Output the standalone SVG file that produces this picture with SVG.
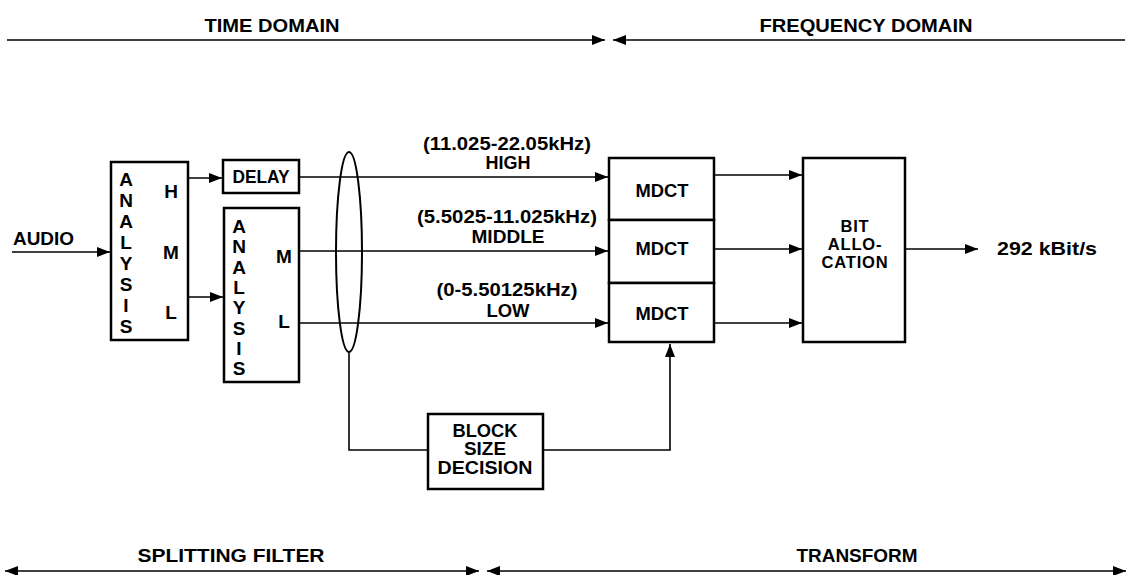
<svg xmlns="http://www.w3.org/2000/svg" width="1130" height="575" viewBox="0 0 1130 575">
<style>
text{font-family:"Liberation Sans",Arial,sans-serif;font-weight:bold;font-size:19px;fill:#000}
.s{font-size:17.5px}
.b{font-size:16.5px;letter-spacing:0.8px}
.box{fill:#fff;stroke:#000;stroke-width:2.5}
.ln{fill:none;stroke:#000;stroke-width:1.6}
.m{text-anchor:middle}
</style>
<defs>
<marker id="ah" viewBox="0 0 13 10" refX="13" refY="5" markerWidth="13" markerHeight="10" markerUnits="userSpaceOnUse" orient="auto">
<path d="M0,0 L13,5 L0,10 Z" fill="#000"/>
</marker>
</defs>
<g id="domains">
<text x="272" y="32" class="m" textLength="135" lengthAdjust="spacingAndGlyphs">TIME DOMAIN</text>
<text x="866" y="32" class="m" textLength="213" lengthAdjust="spacingAndGlyphs">FREQUENCY DOMAIN</text>
<text x="231" y="562" class="m" textLength="187" lengthAdjust="spacingAndGlyphs">SPLITTING FILTER</text>
<text x="857" y="562" class="m" textLength="121" lengthAdjust="spacingAndGlyphs">TRANSFORM</text>
</g>
<g id="audio"><text x="13" y="245" textLength="61" lengthAdjust="spacingAndGlyphs">AUDIO</text></g>
<g id="analysis1">
<rect class="box" x="111" y="162" width="77" height="178"/>
<g class="m">
<text x="126" y="186">A</text><text x="126" y="207">N</text><text x="126" y="228">A</text><text x="126" y="249">L</text><text x="126" y="270">Y</text><text x="126" y="291">S</text><text x="126" y="312">I</text><text x="126" y="333">S</text>
<text x="171" y="198">H</text><text x="171" y="259">M</text><text x="171" y="319">L</text>
</g>
</g>
<g id="delay">
<rect class="box" x="223" y="160" width="76" height="33"/>
<text x="261" y="183" class="m" textLength="57" lengthAdjust="spacingAndGlyphs">DELAY</text>
</g>
<g id="analysis2">
<rect class="box" x="224" y="208" width="75" height="174"/>
<g class="m">
<text x="239" y="233">A</text><text x="239" y="253">N</text><text x="239" y="274">A</text><text x="239" y="294">L</text><text x="239" y="314">Y</text><text x="239" y="335">S</text><text x="239" y="355">I</text><text x="239" y="375">S</text>
<text x="284" y="263">M</text><text x="284" y="328">L</text>
</g>
</g>
<g id="mdct">
<rect class="box" x="609" y="158" width="105" height="62"/>
<rect class="box" x="609" y="220" width="105" height="63"/>
<rect class="box" x="609" y="283" width="105" height="59"/>
<text x="662" y="197" class="m" textLength="53" lengthAdjust="spacingAndGlyphs">MDCT</text>
<text x="662" y="255" class="m" textLength="53" lengthAdjust="spacingAndGlyphs">MDCT</text>
<text x="662" y="320" class="m" textLength="53" lengthAdjust="spacingAndGlyphs">MDCT</text>
</g>
<g id="bitalloc">
<rect class="box" x="803" y="158" width="102" height="184"/>
<text x="855" y="232" class="m b">BIT</text>
<text x="855" y="250" class="m b">ALLO-</text>
<text x="855" y="268" class="m b">CATION</text>
</g>
<g id="blocksize">
<rect class="box" x="428" y="414" width="115" height="75"/>
<text x="485" y="437" class="m s" textLength="65" lengthAdjust="spacingAndGlyphs">BLOCK</text>
<text x="485" y="455" class="m s" textLength="42" lengthAdjust="spacingAndGlyphs">SIZE</text>
<text x="485" y="474" class="m s" textLength="95" lengthAdjust="spacingAndGlyphs">DECISION</text>
</g>
<g id="output"><text x="997" y="255" textLength="100" lengthAdjust="spacingAndGlyphs">292 kBit/s</text></g>
<g id="labels">
<text x="507" y="150" class="m" textLength="168" lengthAdjust="spacingAndGlyphs">(11.025-22.05kHz)</text>
<text x="508" y="169" class="m" textLength="45" lengthAdjust="spacingAndGlyphs">HIGH</text>
<text x="507" y="223" class="m" textLength="180" lengthAdjust="spacingAndGlyphs">(5.5025-11.025kHz)</text>
<text x="508" y="243" class="m" textLength="73" lengthAdjust="spacingAndGlyphs">MIDDLE</text>
<text x="507" y="296" class="m" textLength="141" lengthAdjust="spacingAndGlyphs">(0-5.50125kHz)</text>
<text x="508" y="317" class="m" textLength="43" lengthAdjust="spacingAndGlyphs">LOW</text>
</g>
<g id="connectors">
<line class="ln" x1="7" y1="40" x2="605" y2="40" marker-end="url(#ah)"/>
<line class="ln" x1="1125" y1="40" x2="613" y2="40" marker-end="url(#ah)"/>
<line class="ln" x1="240" y1="571" x2="5" y2="571" marker-end="url(#ah)"/>
<line class="ln" x1="240" y1="571" x2="479" y2="571" marker-end="url(#ah)"/>
<line class="ln" x1="800" y1="571" x2="487" y2="571" marker-end="url(#ah)"/>
<line class="ln" x1="800" y1="571" x2="1126" y2="571" marker-end="url(#ah)"/>
<line class="ln" x1="12" y1="252" x2="110" y2="252" marker-end="url(#ah)"/>
<line class="ln" x1="188" y1="178" x2="222" y2="178" marker-end="url(#ah)"/>
<line class="ln" x1="188" y1="297" x2="223" y2="297" marker-end="url(#ah)"/>
<line class="ln" x1="299" y1="177" x2="608" y2="177" marker-end="url(#ah)"/>
<line class="ln" x1="299" y1="251" x2="608" y2="251" marker-end="url(#ah)"/>
<line class="ln" x1="299" y1="323" x2="608" y2="323" marker-end="url(#ah)"/>
<ellipse class="ln" cx="349" cy="252" rx="13" ry="100" style="stroke-width:2"/>
<polyline class="ln" points="349,352 349,450 428,450"/>
<polyline class="ln" points="543,450 670,450 670,344" marker-end="url(#ah)"/>
<line class="ln" x1="714" y1="175" x2="802" y2="175" marker-end="url(#ah)"/>
<line class="ln" x1="714" y1="249" x2="802" y2="249" marker-end="url(#ah)"/>
<line class="ln" x1="714" y1="323" x2="802" y2="323" marker-end="url(#ah)"/>
<line class="ln" x1="905" y1="249" x2="978" y2="249" marker-end="url(#ah)"/>
</g>
</svg>
